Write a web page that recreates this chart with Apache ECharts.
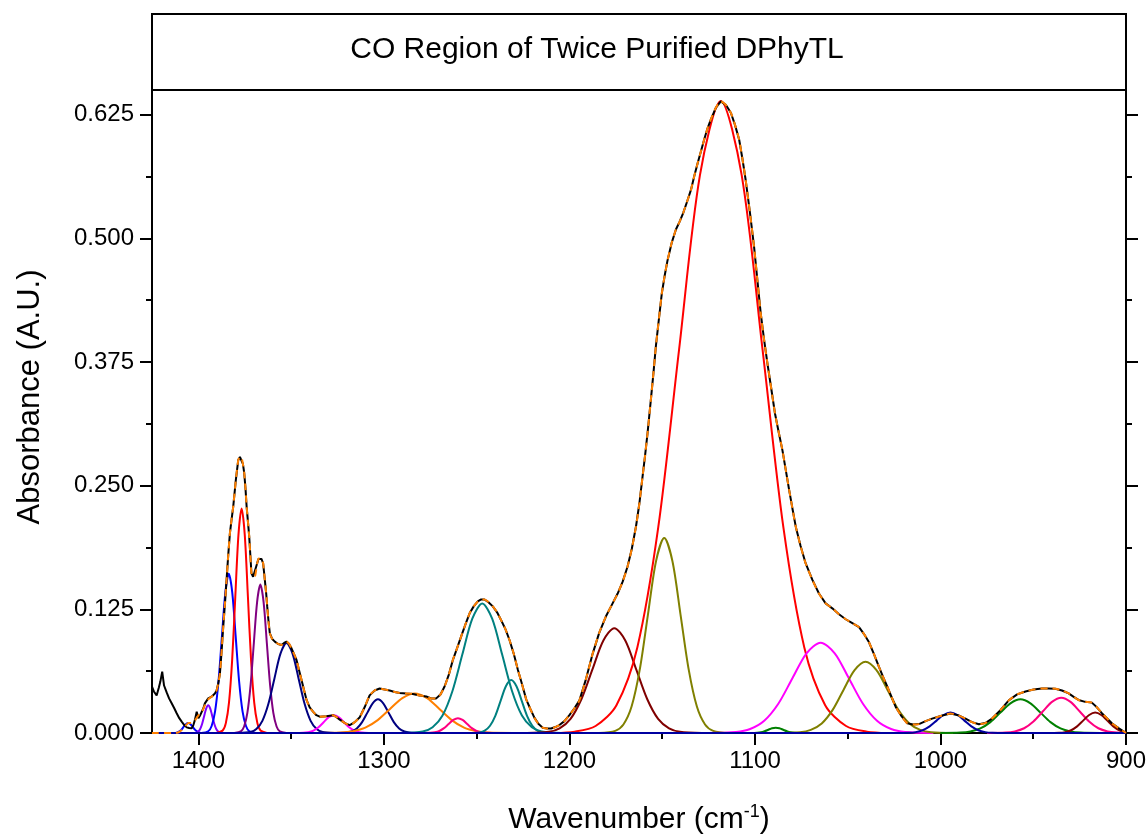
<!DOCTYPE html>
<html>
<head>
<meta charset="utf-8">
<script src="https://cdn.jsdelivr.net/npm/echarts@6/dist/echarts.min.js"></script>
<style>
html,body{margin:0;padding:0;background:#fff;}
#chart{width:1148px;height:836px;}
</style>
</head>
<body>
<div id="chart"></div>
<script>
// ---------------- data (wavenumber cm^-1, absorbance) ----------------
const titleText = 'CO Region of Twice Purified DPhyTL';
const xTicks = [900, 1000, 1100, 1200, 1300, 1400];
const yTicks = [0, 0.125, 0.25, 0.375, 0.5, 0.625];

// measured spectrum (black)
const measured = [[1425,.047],[1424,.042],[1422.5,.038],[1421.3,.046],[1420.5,.052],[1419.5,.062],[1418.5,.048],[1417.1,.041],[1415.8,.035],[1414.4,.030],[1413,.025],[1411.7,.020],[1410.3,.015],[1409,.0115],[1407.6,.008],[1406.3,.0057],[1405,.005],[1403.6,.0047],[1402.7,.008],[1401.9,.013],[1400.9,.0216],[1400,.015],[1399,.018],[1398.2,.020],[1397.3,.025],[1396.5,.030],[1394.7,.035],[1392.9,.0367],[1391.1,.040],[1390.2,.043],[1389.3,.050],[1388.4,.060],[1387.5,.082],[1386.6,.1075],[1385.7,.130],[1384.8,.155],[1383.9,.180],[1383.0,.202],[1382.1,.216],[1381.2,.229],[1379.8,.256],[1378.5,.276],[1377.6,.279],[1376.7,.278],[1376.0,.272],[1375.3,.263],[1374.6,.247],[1374.0,.229],[1373.3,.214],[1372.6,.1985],[1372.0,.180],[1371.4,.1615],[1370.5,.158],[1369.6,.158],[1368.3,.1716],[1367.6,.176],[1366.9,.1767],[1366.0,.176],[1365.1,.1716],[1364.2,.155],[1363.5,.142],[1362.9,.128],[1362.2,.113],[1361.5,.101],[1360.2,.095],[1358.8,.0924],[1357.0,.090],[1355.2,.089],[1353.8,.091],[1352.5,.0924],[1351.1,.090],[1349.8,.0856],[1348.5,.080],[1347.1,.0738],[1345.8,.064],[1344.4,.0536],[1343,.043],[1341.7,.0334],[1340,.026],[1338.2,.0216],[1336.4,.018],[1334.6,.0165],[1331,.017],[1327.4,.018],[1325.5,.016],[1323.8,.0135],[1321,.010],[1318.4,.008],[1315.7,.011],[1313,.016],[1310.4,.026],[1307.7,.038],[1305,.043],[1302.3,.045],[1299.6,.044],[1296.9,.043],[1294.2,.0415],[1291.5,.0405],[1288,.040],[1284.4,.0395],[1280.8,.038],[1277.2,.037],[1274.5,.035],[1271.8,.035],[1269.5,.039],[1267.3,.047],[1265,.059],[1262.8,.074],[1260.5,.086],[1258.3,.098],[1256,.110],[1253.8,.121],[1251.6,.128],[1249.4,.133],[1247.6,.135],[1245.8,.135],[1243.5,.132],[1241.3,.128],[1239,.122],[1236.8,.114],[1234.5,.105],[1232.3,.094],[1230,.080],[1227.8,.064],[1225.5,.049],[1223.3,.034],[1221,.024],[1218.9,.0155],[1216.6,.009],[1214.4,.0054],[1212,.0045],[1209.9,.0045],[1207.6,.006],[1205.4,.008],[1202.7,.012],[1200,.018],[1197.3,.025],[1194.6,.033],[1191,.055],[1187.5,.080],[1184,.101],[1180.3,.118],[1177,.130],[1174,.141],[1171.3,.153],[1168.7,.168],[1166.4,.186],[1164.1,.209],[1162.3,.232],[1160.6,.259],[1159.2,.281],[1157.9,.303],[1156.1,.337],[1154.7,.364],[1153.4,.391],[1151.8,.418],[1150.2,.4445],[1148.6,.463],[1147.1,.478],[1144.8,.496],[1142.6,.509],[1140.6,.517],[1138.7,.5256],[1136.6,.537],[1134.5,.549],[1132.7,.563],[1130.9,.576],[1129.1,.588],[1127.4,.5997],[1125.6,.611],[1123.8,.620],[1121.1,.632],[1118.4,.6385],[1115.7,.635],[1113,.627],[1110.8,.615],[1108.5,.5997],[1106.8,.581],[1105,.559],[1102.7,.526],[1100.5,.492],[1098.7,.458],[1096.9,.4245],[1095.1,.398],[1093.3,.374],[1091.2,.348],[1089.2,.323],[1087.2,.304],[1085.2,.286],[1083.4,.266],[1081.6,.246],[1079.8,.227],[1078,.2086],[1075.4,.189],[1072.7,.1716],[1069.1,.155],[1065.5,.141],[1061.9,.131],[1058.3,.126],[1054.7,.120],[1051.1,.115],[1047.5,.111],[1043.9,.107],[1041.2,.100],[1038.6,.092],[1035.9,.080],[1033.2,.067],[1031,.057],[1028.7,.047],[1026.5,.037],[1024.2,.0266],[1021,.017],[1017.9,.0098],[1014.8,.0085],[1011.6,.009],[1008,.012],[1004.5,.0145],[999.5,.0175],[994.6,.0196],[990.5,.018],[986.5,.0146],[983,.011],[979.3,.0089],[975.8,.010],[972.2,.0146],[967.7,.023],[963.2,.033],[958.7,.039],[954.2,.042],[949.8,.044],[945.3,.045],[941.7,.045],[938.1,.0448],[934.5,.043],[930.9,.040],[928.2,.0365],[925.6,.0334],[922,.0315],[918.4,.0307],[915.7,.026],[913,.020],[910.3,.015],[907.6,.0098],[904,.005],[900.4,.0005]];

// cumulative fit (orange dashed)
const fitted = [[1425,0],[1413,0],[1411,.0005],[1409,.003],[1407,.007],[1405.5,.010],[1404,.010],[1402.5,.011],[1401,.015],[1399.5,.019],[1398,.022],[1396.5,.028],[1394.7,.034],[1392.9,.0367],[1391.1,.040],[1390.2,.043],[1389.3,.050],[1388.4,.060],[1387.5,.082],[1386.6,.1075],[1385.7,.130],[1384.8,.155],[1383.9,.180],[1383.0,.202],[1382.1,.216],[1381.2,.229],[1379.8,.256],[1378.5,.276],[1377.6,.279],[1376.7,.278],[1376.0,.272],[1375.3,.263],[1374.6,.247],[1374.0,.229],[1373.3,.214],[1372.6,.1985],[1372.0,.180],[1371.4,.1615],[1370.5,.158],[1369.6,.158],[1368.3,.1716],[1367.6,.176],[1366.9,.1767],[1366.0,.176],[1365.1,.1716],[1364.2,.155],[1363.5,.142],[1362.9,.128],[1362.2,.113],[1361.5,.101],[1360.2,.095],[1358.8,.0924],[1357.0,.090],[1355.2,.089],[1353.8,.091],[1352.5,.0924],[1351.1,.090],[1349.8,.0856],[1348.5,.080],[1347.1,.0738],[1345.8,.064],[1344.4,.0536],[1343,.043],[1341.7,.0334],[1340,.026],[1338.2,.0216],[1336.4,.018],[1334.6,.0165],[1331,.017],[1327.4,.018],[1325.5,.016],[1323.8,.0135],[1321,.010],[1318.4,.008],[1315.7,.011],[1313,.016],[1310.4,.026],[1307.7,.038],[1305,.043],[1302.3,.045],[1299.6,.044],[1296.9,.043],[1294.2,.0415],[1291.5,.0405],[1288,.040],[1284.4,.0395],[1280.8,.038],[1277.2,.037],[1274.5,.035],[1271.8,.035],[1269.5,.039],[1267.3,.047],[1265,.059],[1262.8,.074],[1260.5,.086],[1258.3,.098],[1256,.110],[1253.8,.121],[1251.6,.128],[1249.4,.133],[1247.6,.135],[1245.8,.135],[1243.5,.132],[1241.3,.128],[1239,.122],[1236.8,.114],[1234.5,.105],[1232.3,.094],[1230,.080],[1227.8,.064],[1225.5,.049],[1223.3,.034],[1221,.024],[1218.9,.0155],[1216.6,.009],[1214.4,.0054],[1212,.0045],[1209.9,.0045],[1207.6,.006],[1205.4,.008],[1202.7,.012],[1200,.018],[1197.3,.025],[1194.6,.033],[1191,.055],[1187.5,.080],[1184,.101],[1180.3,.118],[1177,.130],[1174,.141],[1171.3,.153],[1168.7,.168],[1166.4,.186],[1164.1,.209],[1162.3,.232],[1160.6,.259],[1159.2,.281],[1157.9,.303],[1156.1,.337],[1154.7,.364],[1153.4,.391],[1151.8,.418],[1150.2,.4445],[1148.6,.463],[1147.1,.478],[1144.8,.496],[1142.6,.509],[1140.6,.517],[1138.7,.5256],[1136.6,.537],[1134.5,.549],[1132.7,.563],[1130.9,.576],[1129.1,.588],[1127.4,.5997],[1125.6,.611],[1123.8,.620],[1121.1,.632],[1118.4,.6385],[1115.7,.635],[1113,.627],[1110.8,.615],[1108.5,.5997],[1106.8,.581],[1105,.559],[1102.7,.526],[1100.5,.492],[1098.7,.458],[1096.9,.4245],[1095.1,.398],[1093.3,.374],[1091.2,.348],[1089.2,.323],[1087.2,.304],[1085.2,.286],[1083.4,.266],[1081.6,.246],[1079.8,.227],[1078,.2086],[1075.4,.189],[1072.7,.1716],[1069.1,.155],[1065.5,.141],[1061.9,.131],[1058.3,.126],[1054.7,.120],[1051.1,.115],[1047.5,.111],[1043.9,.107],[1041.2,.100],[1038.6,.092],[1035.9,.080],[1033.2,.067],[1031,.057],[1028.7,.047],[1026.5,.037],[1024.2,.0266],[1021,.017],[1017.9,.0098],[1014.8,.0085],[1011.6,.009],[1008,.012],[1004.5,.0145],[999.5,.0175],[994.6,.0196],[990.5,.018],[986.5,.0146],[983,.011],[979.3,.0089],[975.8,.010],[972.2,.0146],[967.7,.023],[963.2,.033],[958.7,.039],[954.2,.042],[949.8,.044],[945.3,.045],[941.7,.045],[938.1,.0448],[934.5,.043],[930.9,.040],[928.2,.0365],[925.6,.0334],[922,.0315],[918.4,.0307],[915.7,.026],[913,.020],[910.3,.015],[907.6,.0098],[904,.005],[900,0]];

// fitted component bands
const band1405 = [[1415.5,0],[1413,.0001],[1411.75,.0004],[1410.5,.0014],[1409.25,.0032],[1408,.0061],[1406.75,.0088],[1405.5,.0100],[1404.25,.0088],[1403,.0061],[1401.75,.0032],[1400.5,.0014],[1399.25,.0004],[1398,.0001],[1395.5,0]];
const band1395 = [[1403.5,0],[1401.3,.0003],[1400.2,.0012],[1399.1,.0038],[1398.0,.0091],[1396.9,.0170],[1395.8,.0247],[1394.7,.0280],[1393.6,.0247],[1392.5,.0170],[1391.4,.0091],[1390.3,.0038],[1389.2,.0012],[1388.1,.0003],[1385.9,0]];
const band1384 = [[1398.4,0],[1394.7,.0018],[1392.85,.0071],[1391.0,.0218],[1389.15,.0523],[1387.3,.0976],[1385.45,.1421],[1383.6,.161],[1381.75,.1421],[1379.9,.0976],[1378.05,.0523],[1376.2,.0218],[1374.35,.0071],[1372.5,.0018],[1368.8,0]];
const band1377 = [[1390.3,0],[1386.9,.0025],[1385.2,.0100],[1383.5,.0307],[1381.8,.0737],[1380.1,.1377],[1378.4,.2003],[1376.7,.227],[1375.0,.2003],[1373.3,.1377],[1371.6,.0737],[1369.9,.0307],[1368.2,.0100],[1366.5,.0025],[1363.1,0]];
const band1367 = [[1380.6,0],[1377.1,.0017],[1375.35,.0066],[1373.6,.0203],[1371.85,.0487],[1370.1,.0910],[1368.35,.1324],[1366.6,.150],[1364.85,.1324],[1363.1,.0910],[1361.35,.0487],[1359.6,.0203],[1357.85,.0066],[1356.1,.0017],[1352.6,0]];
const band1352 = [[1378.5,0],[1372.0,.0010],[1368.75,.0040],[1365.5,.0123],[1362.25,.0295],[1359.0,.0552],[1355.75,.0803],[1352.5,.091],[1349.25,.0803],[1346.0,.0552],[1342.75,.0295],[1339.5,.0123],[1336.25,.0040],[1333.0,.0010],[1326.5,0]];
const band1327 = [[1349,0],[1343.5,.0002],[1340.75,.0008],[1338.0,.0024],[1335.25,.0058],[1332.5,.0109],[1329.75,.0159],[1327,.018],[1324.25,.0159],[1321.5,.0109],[1318.75,.0058],[1316,.0024],[1313.25,.0008],[1310.5,.0002],[1305,0]];
const band1303 = [[1326,0],[1320.3,.0004],[1317.45,.0015],[1314.6,.0046],[1311.75,.0110],[1308.9,.0206],[1306.05,.0300],[1303.2,.034],[1300.35,.0300],[1297.5,.0206],[1294.65,.0110],[1291.8,.0046],[1288.95,.0015],[1286.1,.0004],[1280.4,0]];
const band1283 = [[1336.6,0],[1323.3,.0004],[1316.65,.0018],[1310.0,.0054],[1303.35,.0130],[1296.7,.0243],[1290.05,.0353],[1283.4,.040],[1276.75,.0353],[1270.1,.0243],[1263.45,.0130],[1256.8,.0054],[1250.15,.0018],[1243.5,.0004],[1230.2,0]];
const band1260 = [[1280.1,0],[1275.1,.0002],[1272.6,.0007],[1270.1,.0020],[1267.6,.0049],[1265.1,.0091],[1262.6,.0132],[1260.1,.015],[1257.6,.0132],[1255.1,.0091],[1252.6,.0049],[1250.1,.0020],[1247.6,.0007],[1245.1,.0002],[1240.1,0]];
const band1247 = [[1289.8,0],[1279.1,.0015],[1273.75,.0058],[1268.4,.0177],[1263.05,.0425],[1257.7,.0795],[1252.35,.1156],[1247,.131],[1241.65,.1156],[1236.3,.0795],[1230.95,.0425],[1225.6,.0177],[1220.25,.0058],[1214.9,.0015],[1204.2,0]];
const band1231 = [[1254.2,0],[1248.5,.0006],[1245.65,.0024],[1242.8,.0073],[1239.95,.0174],[1237.1,.0325],[1234.25,.0473],[1231.4,.0536],[1228.55,.0473],[1225.7,.0325],[1222.85,.0174],[1220.0,.0073],[1217.15,.0024],[1214.3,.0006],[1208.6,0]];
const band1176 = [[1223,0],[1211.2,.0012],[1205.3,.0047],[1199.4,.0143],[1193.5,.0344],[1187.6,.0643],[1181.7,.0935],[1175.8,.106],[1169.9,.0935],[1164.0,.0643],[1158.1,.0344],[1152.2,.0143],[1146.3,.0047],[1140.4,.0012],[1128.6,0]];
const band1149 = [[1184.1,0],[1175.3,.0022],[1170.9,.0086],[1166.5,.0267],[1162.1,.0640],[1157.7,.1195],[1153.3,.1739],[1148.9,.197],[1144.5,.1739],[1140.1,.1195],[1135.7,.0640],[1131.3,.0267],[1126.9,.0086],[1122.5,.0022],[1113.7,0]];
const band1118 = [[1208.4,0],[1197.15,.0014],[1185.9,.0071],[1174.65,.0281],[1163.4,.0865],[1152.15,.2075],[1140.9,.3876],[1129.65,.5639],[1118.4,.639],[1107.15,.5639],[1095.9,.3876],[1084.65,.2075],[1073.4,.0865],[1062.15,.0281],[1050.9,.0071],[1039.65,.0014],[1028.4,0]];
const band1089 = [[1104.8,0],[1100.8,.0001],[1098.8,.0002],[1096.8,.0007],[1094.8,.0018],[1092.8,.0033],[1090.8,.0048],[1088.8,.0054],[1086.8,.0048],[1084.8,.0033],[1082.8,.0018],[1080.8,.0007],[1078.8,.0002],[1076.8,.0001],[1072.8,0]];
const band1065 = [[1125.4,0],[1110.2,.0010],[1102.6,.0040],[1095.0,.0124],[1087.4,.0296],[1079.8,.0554],[1072.2,.0806],[1064.6,.0913],[1057.0,.0806],[1049.4,.0554],[1041.8,.0296],[1034.2,.0124],[1026.6,.0040],[1019.0,.0010],[1003.8,0]];
const band1040 = [[1087.6,0],[1075.8,.0008],[1069.9,.0032],[1064.0,.0097],[1058.1,.0234],[1052.2,.0438],[1046.3,.0635],[1040.4,.072],[1034.5,.0635],[1028.6,.0438],[1022.7,.0234],[1016.8,.0097],[1010.9,.0032],[1005.0,.0008],[993.2,0]];
const band995 = [[1425,0],[1024.6,0],[1017.1,.0002],[1013.35,.0009],[1009.6,.0028],[1005.85,.0067],[1002.1,.0125],[998.35,.0182],[994.6,.0206],[990.85,.0182],[987.1,.0125],[983.35,.0067],[979.6,.0028],[975.85,.0009],[972.1,.0002],[964.6,0],[900,0]];
const band957 = [[1000.1,0],[989.3,.0004],[983.9,.0015],[978.5,.0046],[973.1,.0110],[967.7,.0206],[962.3,.0300],[956.9,.034],[951.5,.0300],[946.1,.0206],[940.7,.0110],[935.3,.0046],[929.9,.0015],[924.5,.0004],[913.7,0]];
const band935 = [[974.9,0],[964.9,.0004],[959.9,.0016],[954.9,.0048],[949.9,.0116],[944.9,.0217],[939.9,.0315],[934.9,.0357],[929.9,.0315],[924.9,.0217],[919.9,.0116],[914.9,.0048],[909.9,.0016],[904.9,.0004],[900,.0001]];
const band917 = [[942.6,0],[936.1,.0002],[932.85,.0009],[929.6,.0028],[926.35,.0067],[923.1,.0125],[919.85,.0182],[916.6,.0206],[913.35,.0182],[910.1,.0125],[906.85,.0067],[903.6,.0028],[900.35,.0009],[900,.0008]];

// ---------------- chart ----------------
const FONT = '"Liberation Sans", Arial, sans-serif';
const bands = [
  [band1405, '#0000ff'], [band1395, '#8000ff'], [band1384, '#0000ff'], [band1377, '#ff0000'],
  [band1367, '#800080'], [band1352, '#000080'], [band1327, '#ff00ff'], [band1303, '#000080'],
  [band1283, '#ff8000'], [band1260, '#ff0080'], [band1247, '#008080'], [band1231, '#008080'],
  [band1176, '#800000'], [band1149, '#808000'], [band1118, '#ff0000'], [band1089, '#008000'],
  [band1065, '#ff00ff'], [band1040, '#808000'], [band957, '#008000'], [band935, '#ff0080'],
  [band917, '#800000'], [band995, '#0000a0']
];
const series = bands.map(([d, c]) => ({
  type: 'line', data: d, symbol: 'none', smooth: 0.3,
  lineStyle: { color: c, width: 2 }, z: 2, silent: true
}));
series.push({ type: 'line', data: measured, symbol: 'none', smooth: false,
  lineStyle: { color: '#000000', width: 2 }, z: 3, silent: true });
series.push({ type: 'line', data: fitted, symbol: 'none', smooth: 0.2,
  lineStyle: { color: '#ff8000', width: 2, type: [7, 5] }, z: 4, silent: true });

const chart = echarts.init(document.getElementById('chart'), null, { renderer: 'canvas' });
const yAxisBase = {
  type: 'value', min: 0, max: 0.65, interval: 0.125,
  axisLine: { show: true, lineStyle: { color: '#000', width: 2 } },
  axisTick: { show: true, inside: false, length: 12, lineStyle: { color: '#000', width: 2 }, customValues: yTicks },
  minorTick: { show: true, splitNumber: 2, length: 6, lineStyle: { color: '#000', width: 2 } },
  splitLine: { show: false }, minorSplitLine: { show: false }
};
chart.setOption({
  animation: false,
  backgroundColor: '#ffffff',
  grid: { left: 152, right: 22, top: 90, bottom: 103, containLabel: false, outerBoundsMode: 'none' },
  graphic: [
    { type: 'rect', shape: { x: 152, y: 14, width: 974, height: 76 },
      style: { fill: 'none', stroke: '#000', lineWidth: 2 }, z: 10 },
    { type: 'text', x: 597, y: 50, z: 10,
      style: { text: titleText, font: '30px ' + FONT, fill: '#000', align: 'center', verticalAlign: 'middle' } },
    { type: 'text', x: 30, y: 397, rotation: Math.PI / 2, z: 10,
      style: { text: 'Absorbance (A.U.)', font: '31px ' + FONT, fill: '#000', align: 'center', verticalAlign: 'middle' } }
  ],
  xAxis: {
    type: 'value', min: 900, max: 1425, interval: 100, inverse: true,
    axisLine: { show: true, onZero: false, lineStyle: { color: '#000', width: 2 } },
    axisTick: { show: true, inside: false, length: 12, lineStyle: { color: '#000', width: 2 }, customValues: xTicks },
    minorTick: { show: true, splitNumber: 2, length: 6, lineStyle: { color: '#000', width: 2 } },
    axisLabel: { customValues: xTicks, color: '#000', fontSize: 24, fontFamily: FONT, margin: 16,
      formatter: v => String(v) },
    splitLine: { show: false }, minorSplitLine: { show: false },
    name: 'Wavenumber (cm{sup|-1})', nameLocation: 'middle', nameGap: 70,
    nameTextStyle: { color: '#000', fontSize: 30, fontFamily: FONT,
      rich: { sup: { fontSize: 18, fontFamily: FONT, color: '#000', padding: [0, 0, 15, 0] } } }
  },
  yAxis: [
    Object.assign({}, yAxisBase, {
      position: 'left',
      axisLabel: { customValues: yTicks, color: '#000', fontSize: 24, fontFamily: FONT, margin: 18,
        formatter: v => v.toFixed(3) }
    }),
    Object.assign({}, yAxisBase, {
      position: 'right',
      axisLabel: { show: false }
    })
  ],
  series: series
});
</script>
</body>
</html>
